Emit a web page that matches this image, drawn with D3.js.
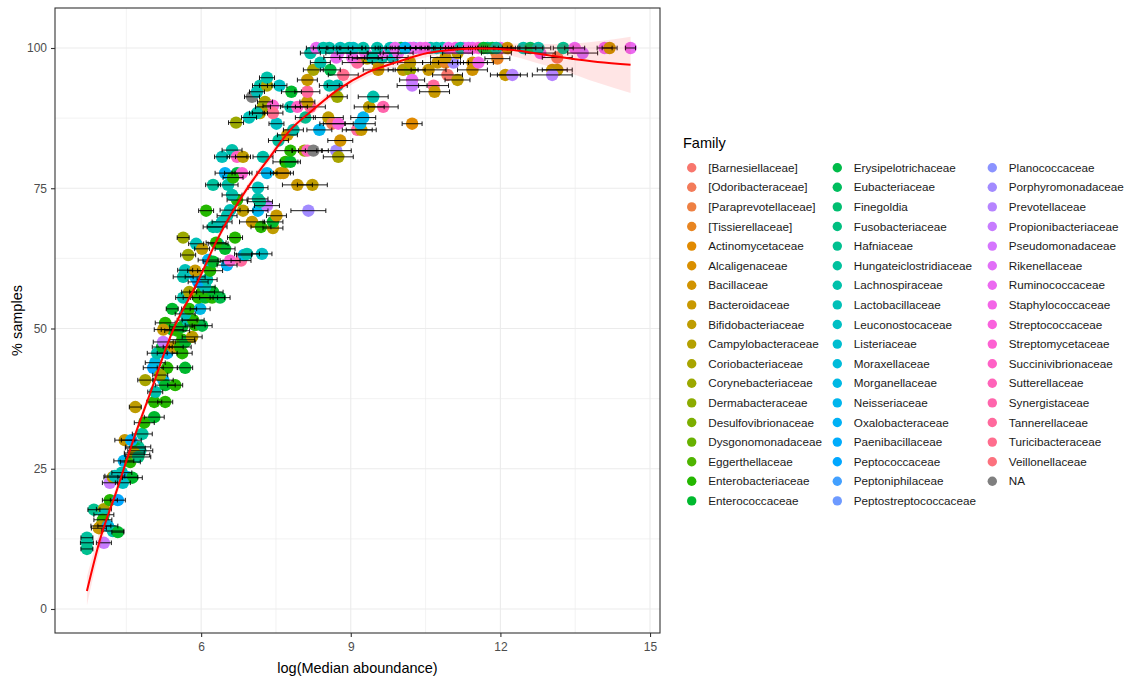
<!DOCTYPE html>
<html>
<head>
<meta charset="utf-8">
<script src="https://cdn.jsdelivr.net/npm/d3@7"></script>
<style>
  body { margin: 0; background: #fff; }
  svg { display: block; }
  text { font-family: "Liberation Sans", Arial, sans-serif; }
</style>
</head>
<body>
<svg id="chart" width="1130" height="682"></svg>
<script>
// ---- Family levels (legend order) ----
const families = [
  "[Barnesiellaceae]", "[Odoribacteraceae]", "[Paraprevotellaceae]", "[Tissierellaceae]",
  "Actinomycetaceae", "Alcaligenaceae", "Bacillaceae", "Bacteroidaceae", "Bifidobacteriaceae",
  "Campylobacteraceae", "Coriobacteriaceae", "Corynebacteriaceae", "Dermabacteraceae",
  "Desulfovibrionaceae", "Dysgonomonadaceae", "Eggerthellaceae", "Enterobacteriaceae",
  "Enterococcaceae", "Erysipelotrichaceae", "Eubacteriaceae", "Finegoldia", "Fusobacteriaceae",
  "Hafniaceae", "Hungateiclostridiaceae", "Lachnospiraceae", "Lactobacillaceae",
  "Leuconostocaceae", "Listeriaceae", "Moraxellaceae", "Morganellaceae", "Neisseriaceae",
  "Oxalobacteraceae", "Paenibacillaceae", "Peptococcaceae", "Peptoniphilaceae",
  "Peptostreptococcaceae", "Planococcaceae", "Porphyromonadaceae", "Prevotellaceae",
  "Propionibacteriaceae", "Pseudomonadaceae", "Rikenellaceae", "Ruminococcaceae",
  "Staphylococcaceae", "Streptococcaceae", "Streptomycetaceae", "Succinivibrionaceae",
  "Sutterellaceae", "Synergistaceae", "Tannerellaceae", "Turicibacteraceae", "Veillonellaceae",
  "NA"
];

// ---- Taxa below full prevalence: log median abundance, % samples, error half-width, family ----
const pointX = [
  3.71, 3.71, 3.71, 4.05, 3.85, 4.05, 4.05, 4.03, 3.99, 3.95,
  4.13, 4.23, 4.33, 4.17, 4.33, 4.17, 4.23, 4.41, 4.27, 4.53,
  4.62, 4.43, 4.45, 4.58, 4.72, 4.74, 4.68, 4.78, 4.66, 4.74,
  4.47, 4.60, 4.82, 4.86, 5.06, 4.68, 5.06, 5.28, 5.08, 4.88,
  5.24, 5.28, 5.48, 5.04, 5.32, 5.68, 5.08, 5.12, 5.32, 5.62,
  5.18, 5.22, 5.44, 5.58, 5.24, 5.62, 5.68, 5.82, 5.28, 5.42,
  5.52, 5.62, 5.88, 6.02, 5.24, 5.72, 5.84, 5.68, 5.42, 5.76,
  5.98, 5.64, 5.94, 6.08, 6.22, 6.38, 5.76, 6.02, 6.24, 6.08,
  5.94, 6.12, 5.64, 5.88, 5.68, 5.88, 6.18, 6.14, 6.24, 6.52,
  6.58, 6.80, 6.86, 5.74, 6.92, 7.22, 5.90, 6.02, 6.34, 6.48,
  6.30, 5.64, 6.68, 6.24, 6.32, 6.42, 7.02, 7.20, 7.44, 7.44,
  6.52, 7.51, 6.10, 6.58, 6.84, 7.14, 8.15, 7.32, 6.72, 7.14,
  7.18, 6.62, 7.14, 6.24, 6.54, 7.93, 8.23, 6.48, 6.72, 6.82,
  6.64, 7.32, 7.59, 7.65, 7.69, 7.79, 6.62, 6.42, 6.72, 6.84,
  7.24, 7.79, 8.07, 8.13, 8.25, 8.71, 8.75, 7.55, 7.73, 7.85,
  8.37, 9.13, 9.21, 8.79, 6.96, 6.70, 7.51, 8.09, 8.55, 9.25,
  8.63, 8.75, 9.19, 10.23, 7.79, 7.93, 8.19, 8.13, 9.37, 9.65,
  7.28, 7.24, 7.44, 7.44, 7.18, 7.12, 7.02, 7.12, 7.18, 7.32,
  7.57, 7.32, 7.81, 8.13, 8.57, 8.73, 8.73, 9.45, 8.13, 8.85,
  8.25, 8.59, 9.55, 10.05, 10.19, 10.56, 11.44, 13.04, 13.14, 8.39,
  9.13, 9.55, 10.19, 10.74, 10.90, 11.06, 11.44, 11.56, 10.94, 12.10,
  12.24, 13.04, 10.23, 11.14, 10.23, 10.66, 10.68, 8.71, 9.33, 9.63,
  9.85, 11.94, 13.14, 10.90, 8.19, 8.75, 9.29, 9.65, 9.95, 11.14,
  11.92, 12.80, 13.65, 9.03, 9.43, 9.03
];
const pointY = [
  12.7, 11.8, 10.7, 11.8, 17.7, 17.8, 16.8, 15.9, 14.8, 14.4,
  14.8, 13.9, 13.7, 19.4, 19.4, 22.5, 23.5, 24.3, 23.7, 23.5,
  23.4, 22.5, 26.4, 26.2, 27.5, 28.9, 28.7, 28.2, 27.8, 27.1,
  30.1, 30.1, 31.2, 33.2, 34.2, 36.0, 36.9, 36.9, 38.7, 40.8,
  40.8, 39.9, 39.9, 43.0, 43.0, 43.0, 43.9, 45.6, 45.6, 45.6,
  41.7, 46.7, 46.7, 46.7, 47.6, 48.0, 47.6, 48.5, 51.0, 49.8,
  49.6, 50.3, 50.6, 50.5, 49.8, 51.5, 51.5, 52.6, 53.5, 53.5,
  53.5, 55.5, 55.5, 55.5, 55.5, 55.5, 56.5, 56.5, 56.5, 57.4,
  58.3, 58.7, 59.2, 59.2, 60.4, 60.3, 60.3, 62.2, 61.9, 61.3,
  62.1, 62.1, 63.1, 63.1, 63.3, 63.3, 65.1, 64.2, 65.1, 64.2,
  65.3, 66.2, 66.2, 68.1, 68.1, 69.0, 69.0, 68.1, 67.9, 69.0,
  70.1, 70.1, 71.0, 71.1, 71.0, 71.0, 71.0, 71.9, 72.9, 73.1,
  72.6, 73.8, 75.1, 75.6, 75.6, 75.6, 75.6, 77.7, 77.7, 77.7,
  76.9, 77.7, 77.7, 77.7, 79.7, 79.7, 81.8, 80.6, 80.6, 80.6,
  80.6, 81.7, 81.7, 81.7, 81.7, 81.7, 80.6, 83.5, 84.5, 85.4,
  85.4, 85.4, 85.4, 83.5, 87.6, 86.7, 86.5, 87.6, 87.6, 87.6,
  86.5, 86.5, 86.5, 86.5, 89.5, 89.5, 89.5, 90.4, 89.5, 89.5,
  90.4, 89.5, 89.7, 88.4, 88.4, 88.4, 91.3, 92.2, 93.3, 93.3,
  93.3, 94.7, 92.2, 92.2, 93.3, 93.3, 91.3, 91.3, 94.3, 95.2,
  96.1, 96.1, 96.1, 96.1, 96.1, 96.1, 96.1, 96.1, 96.1, 97.4,
  97.4, 97.4, 97.4, 97.4, 97.4, 97.4, 97.4, 97.4, 95.2, 95.2,
  95.2, 95.2, 94.3, 94.3, 93.3, 93.3, 92.2, 98.3, 98.1, 98.3,
  98.3, 98.1, 98.3, 98.3, 99.1, 99.1, 99.1, 99.1, 99.1, 99.1,
  99.1, 99.1, 99.1, 99.1, 98.3, 98.3
];
const pointErr = [
  .12, .13, .12, .15, .12, .15, .2, .18, .2, .15,
  .2, .22, .12, .15, .15, .15, .18, .2, .2, .2,
  .2, .15, .2, .2, .25, .25, .2, .25, .2, .25,
  .2, .2, .2, .2, .2, .12, .15, .15, .15, .15,
  .2, .2, .15, .2, .2, .15, .2, .2, .2, .2,
  .15, .2, .2, .22, .2, .25, .2, .2, .2, .22,
  .25, .25, .2, .2, .18, .2, .22, .2, .12, .15,
  .2, .15, .3, .25, .25, .2, .15, .25, .2, .2,
  .2, .2, .2, .2, .15, .15, .25, .2, .2, .2,
  .2, .2, .15, .15, .25, .2, .15, .15, .2, .2,
  .2, .12, .15, .2, .2, .2, .25, .2, .2, .2,
  .2, .2, .15, .2, .2, .2, .35, .25, .2, .2,
  .25, .2, .2, .15, .2, .3, .3, .2, .25, .2,
  .2, .2, .2, .2, .25, .2, .2, .15, .2, .15,
  .2, .3, .25, .3, .3, .3, .3, .2, .2, .2,
  .25, .3, .3, .25, .15, .15, .15, .2, .3, .25,
  .25, .3, .3, .2, .2, .2, .3, .15, .3, .3,
  .15, .15, .2, .2, .15, .15, .15, .15, .15, .15,
  .15, .15, .2, .25, .2, .2, .2, .3, .2, .3,
  .2, .2, .3, .3, .3, .35, .3, .3, .3, .2,
  .3, .3, .25, .3, .3, .3, .3, .3, .3, .3,
  .3, .4, .25, .25, .3, .3, .3, .25, .3, .3,
  .3, .25, .3, .3, .2, .25, .3, .3, .3, .3,
  .3, .3, .3, .3, .3, .25
];
const pointFamily = [
  23, 23, 22, 39, 22, 10, 25, 16, 9, 7,
  29, 24, 17, 16, 33, 39, 8, 24, 25, 30,
  17, 26, 30, 16, 23, 22, 17, 23, 10, 21,
  7, 31, 23, 16, 17, 8, 16, 16, 24, 10,
  30, 17, 16, 33, 16, 17, 29, 24, 30, 16,
  11, 17, 7, 16, 39, 16, 17, 8, 16, 17,
  16, 17, 16, 18, 7, 24, 16, 25, 17, 16,
  29, 24, 16, 17, 16, 18, 10, 16, 17, 25,
  33, 24, 24, 30, 25, 7, 16, 30, 17, 31,
  45, 49, 29, 11, 24, 26, 25, 8, 23, 17,
  16, 11, 16, 23, 24, 25, 7, 16, 8, 17,
  24, 7, 16, 25, 8, 30, 37, 39, 16, 24,
  22, 24, 25, 23, 24, 7, 8, 31, 18, 45,
  16, 30, 7, 6, 16, 17, 24, 25, 46, 8,
  24, 16, 11, 47, 52, 37, 10, 23, 7, 24,
  30, 49, 7, 6, 25, 11, 26, 22, 8, 30,
  1, 44, 29, 4, 24, 46, 49, 7, 8, 48,
  10, 11, 45, 50, 9, 24, 52, 25, 24, 10,
  26, 24, 17, 49, 24, 25, 11, 24, 7, 50,
  10, 18, 7, 8, 11, 7, 6, 7, 8, 24,
  49, 7, 8, 7, 3, 37, 6, 43, 0, 7,
  38, 38, 42, 8, 39, 49, 7, 42, 8, 24,
  25, 3, 1, 7, 24, 42, 43, 42, 42, 8,
  2, 43, 40, 42, 24, 43
];

// ---- Taxa present in every sample (100 %) ----
const fullPrevalence = 100;
const fullX = [
  8.31, 8.45, 8.57, 8.79, 8.97, 9.05, 9.25, 9.53, 9.79, 10.01,
  10.19, 10.27, 10.25, 10.39, 10.60, 10.84, 10.96, 11.10, 11.26, 11.44,
  11.56, 11.74, 11.84, 12.00, 12.14, 12.46, 12.60, 12.76, 13.26, 13.49,
  14.09, 14.19, 14.61, 9.89, 10.09, 10.50, 10.72, 11.20, 11.36, 11.66,
  11.92
];
const fullErr = [
  .2, .2, .2, .25, .25, .25, .3, .3, .3, .3,
  .3, .3, .3, .3, .3, .3, .3, .3, .3, .3,
  .3, .3, .3, .3, .25, .25, .25, .25, .2, .2,
  .15, .15, .1, .3, .3, .3, .3, .3, .3, .3,
  .3
];
const fullFamily = [
  42, 24, 24, 25, 24, 26, 24, 24, 25, 18,
  40, 34, 42, 42, 24, 24, 42, 43, 42, 42,
  44, 22, 18, 42, 7, 24, 19, 24, 22, 42,
  42, 7, 42, 42, 30, 43, 25, 24, 42, 17,
  23
];

// ---- Loess fit with its confidence band ----
const smoothX  = [3.71, 3.97, 4.31, 4.64, 4.98, 5.44, 5.92, 6.32, 6.94, 7.38, 7.79, 8.19, 8.73, 9.33, 9.93, 10.54, 11.06, 11.60, 12.20, 12.66, 13.26, 13.95, 14.61];
const smoothY  = [3.2, 12.3, 21.2, 30.1, 38.5, 49.8, 58.1, 65.8, 75.2, 80.6, 85.4, 88.6, 92.5, 95.6, 97.5, 99.1, 99.7, 99.9, 99.7, 99.1, 98.3, 97.5, 97.0];
const smoothLo = [0.6, 10.6, 20.2, 29.3, 37.8, 49.1, 57.4, 65.1, 74.5, 79.9, 84.7, 87.9, 91.8, 94.9, 96.8, 98.4, 99.0, 99.1, 98.6, 97.5, 95.9, 93.8, 92.0];
const smoothHi = [5.8, 14.0, 22.2, 30.9, 39.2, 50.5, 58.8, 66.5, 75.9, 81.3, 86.1, 89.3, 93.2, 96.3, 98.2, 99.8, 100.4, 100.7, 100.8, 100.7, 100.7, 101.2, 102.0];

// ---- Axis breaks ----
const xTicks = [6, 9, 12, 15];
const xMinor = [4.5, 7.5, 10.5, 13.5];
const yTicks = [0, 25, 50, 75, 100];
const yMinor = [12.5, 37.5, 62.5, 87.5];

// ---- HCL (polar LUV) to sRGB, as used for the default discrete hue scale ----
function hclHex(h, c, l) {
  const WX = 95.047, WY = 100.0, WZ = 108.883;
  const hr = h * Math.PI / 180;
  const U = c * Math.cos(hr), V = c * Math.sin(hr);
  const Y = WY * (l > 7.999592 ? Math.pow((l + 16) / 116, 3) : l / 903.3);
  const t = WX + WY + WZ, xn = WX / t, yn = WY / t;
  const un = 2 * xn / (6 * yn - xn + 1.5), vn = 4.5 * yn / (6 * yn - xn + 1.5);
  const u = U / (13 * l) + un, v = V / (13 * l) + vn;
  const X = 9 * Y * u / (4 * v);
  const Z = -X / 3 - 5 * Y + 3 * Y / v;
  const lin = [
    3.240479 * X - 1.537150 * Y - 0.498535 * Z,
   -0.969256 * X + 1.875992 * Y + 0.041556 * Z,
    0.055648 * X - 0.204043 * Y + 1.057311 * Z
  ].map(q => q / 100);
  const gam = q => {
    q = q <= 0.0031308 ? 12.92 * q : 1.055 * Math.pow(q, 1 / 2.4) - 0.055;
    return Math.round(255 * Math.max(0, Math.min(1, q)));
  };
  const [r, g, b] = lin.map(gam);
  return d3.rgb(r, g, b).formatHex();
}

const nLevels = families.length - 1; // last level is NA
const palette = families.map((f, i) =>
  i === nLevels ? "#7F7F7F" : hclHex(15 + 360 * i / nLevels, 100, 65));
const color = d3.scaleOrdinal().domain(families).range(palette);

// ---- Layout ----
const svg = d3.select("#chart");
const panel = { left: 55, right: 660, top: 8, bottom: 633 };

const x = d3.scaleLinear().domain([3.07, 15.2]).range([panel.left, panel.right]);
const y = d3.scaleLinear().domain([-4.28, 107.13]).range([panel.bottom, panel.top]);

svg.append("rect").attr("width", 1130).attr("height", 682).attr("fill", "#fff");

// grid
const grid = svg.append("g");
grid.selectAll(".vmin").data(xMinor).join("line")
  .attr("x1", d => x(d)).attr("x2", d => x(d))
  .attr("y1", panel.top).attr("y2", panel.bottom)
  .attr("stroke", "#EBEBEB").attr("stroke-width", 0.6);
grid.selectAll(".hmin").data(yMinor).join("line")
  .attr("y1", d => y(d)).attr("y2", d => y(d))
  .attr("x1", panel.left).attr("x2", panel.right)
  .attr("stroke", "#EBEBEB").attr("stroke-width", 0.6);
grid.selectAll(".vmaj").data(xTicks).join("line")
  .attr("x1", d => x(d)).attr("x2", d => x(d))
  .attr("y1", panel.top).attr("y2", panel.bottom)
  .attr("stroke", "#EBEBEB").attr("stroke-width", 1.1);
grid.selectAll(".hmaj").data(yTicks).join("line")
  .attr("y1", d => y(d)).attr("y2", d => y(d))
  .attr("x1", panel.left).attr("x2", panel.right)
  .attr("stroke", "#EBEBEB").attr("stroke-width", 1.1);

// assemble rows
const rows = pointX.map((v, i) => ({
  x: v, y: pointY[i], err: pointErr[i], family: families[pointFamily[i]]
})).concat(fullX.map((v, i) => ({
  x: v, y: fullPrevalence, err: fullErr[i], family: families[fullFamily[i]]
})));

// points
svg.append("g").selectAll("circle").data(rows).join("circle")
  .attr("cx", d => x(d.x)).attr("cy", d => y(d.y)).attr("r", 6.2)
  .attr("fill", d => color(d.family));

// horizontal error bars
const eb = svg.append("g").attr("stroke", "#000").attr("stroke-width", 0.9);
eb.selectAll(".bar").data(rows).join("line")
  .attr("x1", d => x(d.x - d.err)).attr("x2", d => x(d.x + d.err))
  .attr("y1", d => y(d.y)).attr("y2", d => y(d.y));
eb.selectAll(".capL").data(rows).join("line")
  .attr("x1", d => x(d.x - d.err)).attr("x2", d => x(d.x - d.err))
  .attr("y1", d => y(d.y) - 2.3).attr("y2", d => y(d.y) + 2.3);
eb.selectAll(".capR").data(rows).join("line")
  .attr("x1", d => x(d.x + d.err)).attr("x2", d => x(d.x + d.err))
  .attr("y1", d => y(d.y) - 2.3).attr("y2", d => y(d.y) + 2.3);

// smooth
const sm = smoothX.map((v, i) => ({ x: v, y: smoothY[i], lo: smoothLo[i], hi: smoothHi[i] }));
svg.append("path").datum(sm)
  .attr("d", d3.area().curve(d3.curveMonotoneX)
    .x(d => x(d.x)).y0(d => y(d.lo)).y1(d => y(d.hi)))
  .attr("fill", "red").attr("fill-opacity", 0.1);
svg.append("path").datum(sm)
  .attr("d", d3.line().curve(d3.curveMonotoneX).x(d => x(d.x)).y(d => y(d.y)))
  .attr("fill", "none").attr("stroke", "red").attr("stroke-width", 2);

// panel border
svg.append("rect")
  .attr("x", panel.left).attr("y", panel.top)
  .attr("width", panel.right - panel.left).attr("height", panel.bottom - panel.top)
  .attr("fill", "none").attr("stroke", "#333333").attr("stroke-width", 1.1);

// axes
const xAxis = svg.append("g").attr("transform", `translate(0,${panel.bottom})`)
  .call(d3.axisBottom(x).tickValues(xTicks).tickSize(4).tickPadding(5).tickFormat(d3.format("d")));
const yAxis = svg.append("g").attr("transform", `translate(${panel.left},0)`)
  .call(d3.axisLeft(y).tickValues(yTicks).tickSize(4).tickPadding(4).tickFormat(d3.format("d")));
[xAxis, yAxis].forEach(a => {
  a.select(".domain").remove();
  a.selectAll(".tick line").attr("stroke", "#333333").attr("stroke-width", 1.1);
  a.selectAll(".tick text").attr("fill", "#4D4D4D")
    .style("font-size", "12px").style("font-family", "'Liberation Sans', Arial, sans-serif");
});

// axis titles
svg.append("text")
  .attr("x", (panel.left + panel.right) / 2).attr("y", 673)
  .attr("text-anchor", "middle").attr("fill", "#000").style("font-size", "14.5px")
  .text("log(Median aboundance)");
svg.append("text")
  .attr("transform", `translate(22,${(panel.top + panel.bottom) / 2}) rotate(-90)`)
  .attr("text-anchor", "middle").attr("fill", "#000").style("font-size", "14.5px")
  .text("% samples");

// legend
const legend = svg.append("g");
legend.append("text").attr("x", 683).attr("y", 147.5)
  .attr("fill", "#000").style("font-size", "14.5px").text("Family");
const colDot = [691.7, 837.3, 992.3];
const rowsPerCol = 18;
const items = legend.selectAll(".item").data(families).join("g")
  .attr("transform", (d, i) =>
    `translate(${colDot[Math.floor(i / rowsPerCol)]},${167.7 + (i % rowsPerCol) * 19.6})`);
items.append("circle").attr("r", 4.7).attr("fill", d => color(d));
items.append("text").attr("x", 16.5).attr("dy", "0.35em")
  .attr("fill", "#1A1A1A").style("font-size", "11.7px").text(d => d);
</script>
</body>
</html>
